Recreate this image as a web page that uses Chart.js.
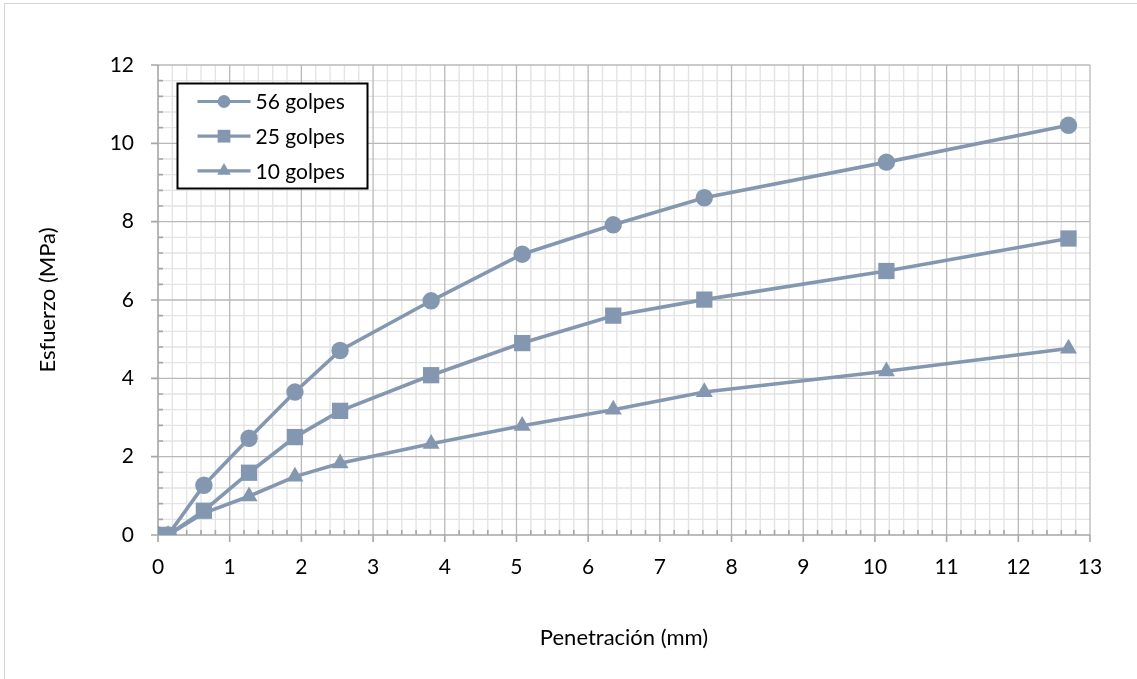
<!DOCTYPE html>
<html>
<head>
<meta charset="utf-8">
<title>Esfuerzo vs Penetración</title>
<script src="https://cdn.jsdelivr.net/npm/chart.js@4/dist/chart.umd.min.js"></script>
<style>
  html, body { margin: 0; padding: 0; background: #fff; }
  #wrap { width: 1137px; height: 679px; }
</style>
</head>
<body>
<div id="wrap"><canvas id="c" width="1137" height="679"></canvas></div>
<script>
// Penetración (mm) de cada lectura
const penetracion = [0, 0.14, 0.64, 1.27, 1.91, 2.54, 3.81, 5.08, 6.35, 7.62, 10.16, 12.7];
// Esfuerzo (MPa) por energía de compactación
const golpes56 = [0, 0, 1.27, 2.47, 3.65, 4.71, 5.98, 7.17, 7.92, 8.61, 9.52, 10.46];
const golpes25 = [0, 0, 0.62, 1.59, 2.50, 3.17, 4.08, 4.90, 5.60, 6.01, 6.74, 7.57];
const golpes10 = [0, 0, 0.56, 0.99, 1.49, 1.83, 2.33, 2.79, 3.20, 3.65, 4.18, 4.76];
const seriesNames = ['56 golpes', '25 golpes', '10 golpes'];
const seriesStyles = ['circle', 'rect', 'triangle'];

const X_MAX = 13, X_MAJOR = 1, X_MINOR = 0.2;
const Y_MAX = 12, Y_MAJOR = 2, Y_MINOR = 0.4;

const LINE_COLOR = '#8497b0';
const FONT = 'Lato, "Liberation Sans", sans-serif';

function toPoints(xs, ys) { return xs.map((v, i) => ({ x: v, y: ys[i] })); }

const seriesValues = [golpes56, golpes25, golpes10];
const markerRadius = { circle: 8.7, rect: 11.5, triangle: 9.8 };

const datasets = seriesValues.map((vals, i) => ({
  label: seriesNames[i],
  data: toPoints(penetracion, vals),
  borderColor: LINE_COLOR,
  backgroundColor: LINE_COLOR,
  borderWidth: 3.6,
  pointStyle: seriesStyles[i],
  pointRadius: markerRadius[seriesStyles[i]],
  pointHoverRadius: markerRadius[seriesStyles[i]],
  pointBorderWidth: 0,
  pointBackgroundColor: LINE_COLOR,
  tension: 0,
  order: 2 - i
}));

// white page with a light frame on the left and top
const framePlugin = {
  id: 'frame',
  beforeDraw(chart) {
    const { ctx, width, height } = chart;
    ctx.save();
    ctx.fillStyle = '#ffffff';
    ctx.fillRect(0, 0, width, height);
    ctx.strokeStyle = '#d4d4d4';
    ctx.lineWidth = 1;
    ctx.beginPath();
    ctx.moveTo(4.5, height);
    ctx.lineTo(4.5, 3.5);
    ctx.lineTo(width, 3.5);
    ctx.stroke();
    ctx.restore();
  }
};

// major / minor gridlines, axis lines and tick marks
const gridPlugin = {
  id: 'excelGrid',
  beforeDatasetsDraw(chart) {
    const { ctx, chartArea: a, scales: { x, y } } = chart;
    const nx = Math.round(X_MAX / X_MINOR);
    const ny = Math.round(Y_MAX / Y_MINOR);
    const xPerMajor = Math.round(X_MAJOR / X_MINOR);
    const yPerMajor = Math.round(Y_MAJOR / Y_MINOR);
    ctx.save();
    // minor
    ctx.strokeStyle = '#e4e4e4';
    ctx.lineWidth = 1.4;
    ctx.beginPath();
    for (let i = 1; i < nx; i++) {
      if (i % xPerMajor === 0) continue;
      const px = x.getPixelForValue(i * X_MINOR);
      ctx.moveTo(px, a.top); ctx.lineTo(px, a.bottom);
    }
    for (let j = 1; j < ny; j++) {
      if (j % yPerMajor === 0) continue;
      const py = y.getPixelForValue(j * Y_MINOR);
      ctx.moveTo(a.left, py); ctx.lineTo(a.right, py);
    }
    ctx.stroke();
    // major
    ctx.strokeStyle = '#b9b9b9';
    ctx.lineWidth = 1.3;
    ctx.beginPath();
    for (let i = xPerMajor; i <= nx; i += xPerMajor) {
      const px = x.getPixelForValue(i * X_MINOR);
      ctx.moveTo(px, a.top); ctx.lineTo(px, a.bottom);
    }
    for (let j = yPerMajor; j <= ny; j += yPerMajor) {
      const py = y.getPixelForValue(j * Y_MINOR);
      ctx.moveTo(a.left, py); ctx.lineTo(a.right, py);
    }
    ctx.stroke();
    // axes
    ctx.strokeStyle = '#a6a6a6';
    ctx.lineWidth = 1.6;
    ctx.beginPath();
    const x0 = x.getPixelForValue(0), y0 = y.getPixelForValue(0);
    ctx.moveTo(x0, a.top); ctx.lineTo(x0, y0 + 1);
    ctx.moveTo(x0 - 1, y0); ctx.lineTo(a.right, y0);
    // major ticks outward
    for (let i = 0; i <= nx; i += xPerMajor) {
      const px = x.getPixelForValue(i * X_MINOR);
      ctx.moveTo(px, y0); ctx.lineTo(px, y0 + 7);
    }
    for (let j = 0; j <= ny; j += yPerMajor) {
      const py = y.getPixelForValue(j * Y_MINOR);
      ctx.moveTo(x0, py); ctx.lineTo(x0 - 7, py);
    }
    // minor ticks inward
    for (let i = 1; i < nx; i++) {
      if (i % xPerMajor === 0) continue;
      const px = x.getPixelForValue(i * X_MINOR);
      ctx.moveTo(px, y0); ctx.lineTo(px, y0 - 5);
    }
    for (let j = 1; j < ny; j++) {
      if (j % yPerMajor === 0) continue;
      const py = y.getPixelForValue(j * Y_MINOR);
      ctx.moveTo(x0, py); ctx.lineTo(x0 + 5, py);
    }
    ctx.stroke();
    ctx.restore();
  }
};

// boxed legend in the upper-left of the plot
const legendPlugin = {
  id: 'boxLegend',
  afterDraw(chart) {
    const { ctx, chartArea: a } = chart;
    const left = a.left + 19.5, top = a.top + 18.5;
    const w = 190, h = 105, rowH = 34.7;
    ctx.save();
    ctx.fillStyle = '#ffffff';
    ctx.fillRect(left, top, w, h);
    ctx.strokeStyle = '#000000';
    ctx.lineWidth = 2;
    ctx.strokeRect(left, top, w, h);
    chart.data.datasets.forEach((ds, i) => {
      const cy = top + 18 + i * rowH;
      const lx0 = left + 20, lx1 = left + 73;
      ctx.strokeStyle = ds.borderColor;
      ctx.lineWidth = 3.2;
      ctx.beginPath();
      ctx.moveTo(lx0, cy); ctx.lineTo(lx1, cy);
      ctx.stroke();
      ctx.fillStyle = ds.backgroundColor;
      const r = { circle: 6.4, rect: 9, triangle: 7.8 }[ds.pointStyle];
      Chart.helpers.drawPoint(ctx, { pointStyle: ds.pointStyle, radius: r, rotation: 0, borderWidth: 0 }, (lx0 + lx1) / 2, cy);
      ctx.fillStyle = '#000000';
      ctx.font = '21px ' + FONT;
      ctx.textBaseline = 'middle';
      ctx.textAlign = 'left';
      ctx.fillText(ds.label, left + 78, cy + 1);
    });
    ctx.restore();
  }
};

Chart.defaults.font.family = FONT;
Chart.defaults.color = '#000000';

new Chart(document.getElementById('c'), {
  type: 'line',
  data: { datasets },
  options: {
    responsive: false,
    animation: false,
    events: [],
    layout: { padding: { left: 0, top: 65, right: 47, bottom: 0 } },
    plugins: { legend: { display: false }, tooltip: { enabled: false } },
    scales: {
      x: {
        type: 'linear',
        min: 0,
        max: X_MAX,
        ticks: { stepSize: X_MAJOR, padding: 20, font: { size: 21 }, color: '#000', maxRotation: 0 },
        grid: { display: false, drawTicks: false },
        border: { display: false },
        title: { display: true, text: 'Penetración (mm)', font: { size: 22 }, color: '#000', padding: { top: 0, bottom: 28 } },
        afterFit(scale) { scale.height = 144; }
      },
      y: {
        type: 'linear',
        min: 0,
        max: Y_MAX,
        ticks: { stepSize: Y_MAJOR, padding: 24, font: { size: 21 }, color: '#000' },
        grid: { display: false, drawTicks: false },
        border: { display: false },
        title: { display: true, text: 'Esfuerzo (MPa)', font: { size: 22 }, color: '#000', padding: { top: 35, bottom: 0 } },
        afterFit(scale) { scale.width = 158; }
      }
    }
  },
  plugins: [framePlugin, gridPlugin, legendPlugin]
});
</script>
</body>
</html>
